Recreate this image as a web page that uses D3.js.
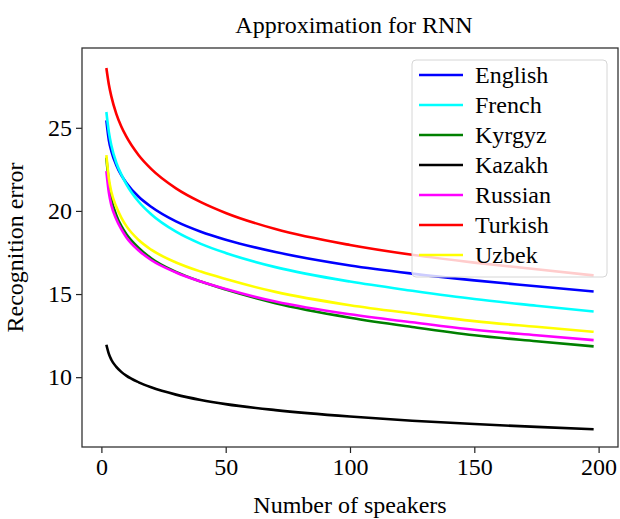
<!DOCTYPE html>
<html>
<head>
<meta charset="utf-8">
<script src="https://cdn.jsdelivr.net/npm/d3@7"></script>
<style>
  body { margin: 0; background: #fff; }
  text { font-family: "Liberation Serif", "DejaVu Serif", serif; fill: #000; }
</style>
</head>
<body>
<div id="chart"></div>
<script>
// data
var speakers = [2, 3, 4, 6, 8, 10, 15, 20, 30, 40, 50, 70, 100, 125, 150, 175, 198];

var english = [25.45, 24.25, 23.6, 22.75, 22.15, 21.7, 20.85, 20.25, 19.37, 18.75, 18.27, 17.53, 16.72, 16.23, 15.82, 15.47, 15.15];
var french  = [25.95, 24.75, 23.95, 22.9, 22.2, 21.62, 20.55, 19.8, 18.75, 18.02, 17.47, 16.62, 15.75, 15.2, 14.7, 14.3, 13.95];
var kyrgyz  = [23.2, 21.7, 20.75, 19.75, 19.1, 18.62, 17.78, 17.15, 16.33, 15.75, 15.27, 14.45, 13.58, 13.02, 12.52, 12.16, 11.85];
var kazakh  = [11.95, 11.4, 11.05, 10.62, 10.32, 10.09, 9.69, 9.39, 8.95, 8.63, 8.38, 8.02, 7.63, 7.38, 7.18, 7.01, 6.87];
var russian = [22.4, 21.1, 20.35, 19.5, 18.9, 18.42, 17.62, 17.05, 16.3, 15.75, 15.3, 14.55, 13.78, 13.3, 12.85, 12.52, 12.23];
var turkish = [28.6, 27.61, 26.89, 25.84, 25.08, 24.48, 23.35, 22.53, 21.36, 20.53, 19.88, 18.91, 17.95, 17.36, 16.89, 16.49, 16.12];
var uzbek   = [23.35, 21.95, 21.15, 20.25, 19.6, 19.1, 18.25, 17.67, 16.9, 16.35, 15.9, 15.13, 14.33, 13.83, 13.37, 13.03, 12.73];

var languages = ['English', 'French', 'Kyrgyz', 'Kazakh', 'Russian', 'Turkish', 'Uzbek'];
var seriesValues = [english, french, kyrgyz, kazakh, russian, turkish, uzbek];
var xTicks = [0, 50, 100, 150, 200];
var yTicks = [10, 15, 20, 25];

var colours = ['#0000ff', '#00ffff', '#008000', '#000000', '#ff00ff', '#ff0000', '#ffff00'];

var width = 620, height = 519;
var margin = { left: 82, right: 2, top: 48, bottom: 72 };

//setup SVG wrapper
var svg = d3.select('#chart')
  .append('svg')
  .attr('width', width)
  .attr('height', height);

var x = d3.scaleLinear()
  .domain([-7.8, 207.8])
  .range([margin.left, width - margin.right]);

var y = d3.scaleLinear()
  .domain([5.8, 29.8])
  .range([height - margin.bottom, margin.top]);

//title
svg.append('text')
  .attr('x', (margin.left + width - margin.right) / 2 + 4)
  .attr('y', 33)
  .attr('text-anchor', 'middle')
  .attr('font-size', '24px')
  .text('Approximation for RNN');

//lines
var line = d3.line()
  .x(function(d) { return x(d[0]); })
  .y(function(d) { return y(d[1]); })
  .curve(d3.curveMonotoneX);

var series = languages.map(function(name, i) {
  return {
    name: name,
    colour: colours[i],
    points: speakers.map(function(s, j) { return [s, seriesValues[i][j]]; })
  };
});

svg.append('g')
  .selectAll('path')
  .data(series)
  .enter()
  .append('path')
  .attr('fill', 'none')
  .attr('stroke', function(d) { return d.colour; })
  .attr('stroke-width', 2.6)
  .attr('d', function(d) { return line(d.points); });

// axes
var xAxis = svg.append('g')
  .attr('transform', 'translate(0,' + (height - margin.bottom) + ')')
  .call(d3.axisBottom(x).tickValues(xTicks).tickSize(6).tickPadding(5));

var yAxis = svg.append('g')
  .attr('transform', 'translate(' + margin.left + ',0)')
  .call(d3.axisLeft(y).tickValues(yTicks).tickSize(6).tickPadding(4));

[xAxis, yAxis].forEach(function(ax) {
  ax.select('.domain').remove();
  ax.selectAll('line').attr('stroke', '#222').attr('stroke-width', 1.2);
  ax.selectAll('text')
    .attr('font-size', '24px')
    .attr('font-family', '"Liberation Serif", serif')
    .attr('fill', '#000');
});

//frame
svg.append('rect')
  .attr('x', margin.left)
  .attr('y', margin.top)
  .attr('width', width - margin.right - margin.left)
  .attr('height', height - margin.bottom - margin.top)
  .attr('fill', 'none')
  .attr('stroke', '#333')
  .attr('stroke-width', 1.3);

//axis labels
svg.append('text')
  .attr('x', (margin.left + width - margin.right) / 2)
  .attr('y', 513)
  .attr('text-anchor', 'middle')
  .attr('font-size', '24px')
  .text('Number of speakers');

svg.append('text')
  .attr('transform', 'translate(23,' + ((margin.top + height - margin.bottom) / 2) + ') rotate(-90)')
  .attr('text-anchor', 'middle')
  .attr('font-size', '24px')
  .text('Recognition error');

//legend
var legend = svg.append('g').attr('transform', 'translate(412,60)');

legend.append('rect')
  .attr('width', 195)
  .attr('height', 217)
  .attr('rx', 4)
  .attr('fill', '#fff')
  .attr('fill-opacity', 0.8)
  .attr('stroke', '#d6d6d6')
  .attr('stroke-width', 1);

var item = legend.selectAll('.item')
  .data(series)
  .enter()
  .append('g')
  .attr('class', 'item')
  .attr('transform', function(d, i) { return 'translate(0,' + (15 + i * 30) + ')'; });

item.append('line')
  .attr('x1', 7)
  .attr('x2', 51)
  .attr('stroke', function(d) { return d.colour; })
  .attr('stroke-width', 2.6);

item.append('text')
  .attr('x', 63)
  .attr('dy', '0.33em')
  .attr('font-size', '24px')
  .text(function(d) { return d.name; });
</script>
</body>
</html>
